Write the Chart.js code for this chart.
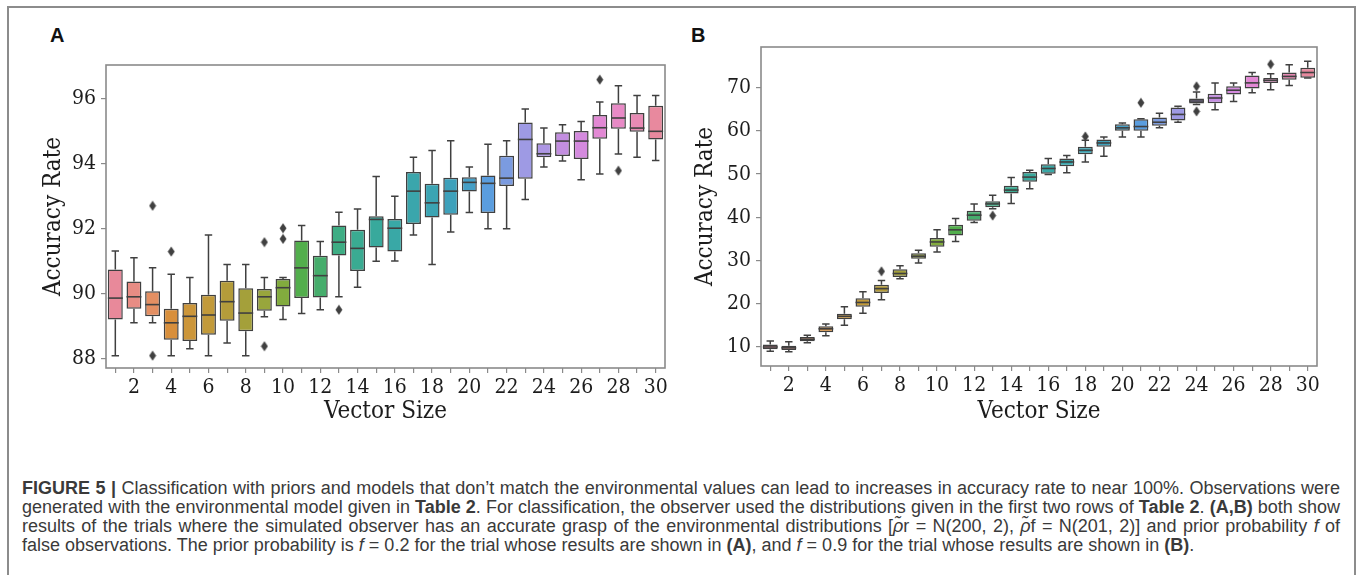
<!DOCTYPE html>
<html>
<head>
<meta charset="utf-8">
<script src="https://cdn.jsdelivr.net/npm/chart.js@4.4.1/dist/chart.umd.min.js"></script>
<style>
  html, body { margin: 0; padding: 0; background: #fff; }
  body { width: 1357px; height: 575px; position: relative; overflow: hidden; }
  #frame { position: absolute; left: 7px; top: 6px; width: 1349px; height: 620px;
           border: 2px solid #8c8c8c; box-sizing: border-box; }
  canvas { position: absolute; top: 0; }
  #chartA { left: 0; }
  #chartB { left: 680px; }
  .tag { position: absolute; top: 25px; font: bold 20px/1 "Liberation Sans", Arial, sans-serif; color: #111; }
  #caption { position: absolute; left: 22px; top: 479px; width: 1318px;
             font-family: "Liberation Sans", Arial, sans-serif; font-size: 18px; line-height: 19px; color: #3a3a3a; }
  #caption div { text-align: justify; text-align-last: justify; }
  #caption div.last { text-align: left; text-align-last: left; }
</style>
</head>
<body>
<div id="frame"></div>
<div class="tag" style="left:50px">A</div>
<div class="tag" style="left:691px">B</div>
<canvas id="chartA" width="680" height="430"></canvas>
<canvas id="chartB" width="677" height="430"></canvas>
<div id="caption">
  <div><b>FIGURE 5 |</b> Classification with priors and models that don’t match the environmental values can lead to increases in accuracy rate to near 100%. Observations were</div>
  <div>generated with the environmental model given in <b>Table 2</b>. For classification, the observer used the distributions given in the first two rows of <b>Table 2</b>. <b>(A,B)</b> both show</div>
  <div>results of the trials where the simulated observer has an accurate grasp of the environmental distributions [<i>ρ̃</i>r = N(200, 2), <i>ρ̃</i>f = N(201, 2)] and prior probability <i>f</i> of</div>
  <div class="last">false observations. The prior probability is <i>f</i> = 0.2 for the trial whose results are shown in <b>(A)</b>, and <i>f</i> = 0.9 for the trial whose results are shown in <b>(B)</b>.</div>
</div>
<script>
const xLabels = ['1','2','3','4','5','6','7','8','9','10','11','12','13','14','15',
                 '16','17','18','19','20','21','22','23','24','25','26','27','28','29','30'];

// panel A: whisker low, Q1, median, Q3, whisker high
const aLow  = [88.08, 89.09, 89.09, 88.08, 88.29, 88.08, 88.47, 88.08, 89.28, 89.19,
               89.38, 89.49, 89.89, 90.18, 90.98, 90.99, 91.79, 90.88, 91.88, 92.48,
               91.98, 91.98, 92.88, 93.88, 94.07, 93.49, 93.67, 94.28, 94.18, 94.08];
const aQ1   = [89.19, 89.52, 89.29, 88.57, 88.53, 88.72, 89.15, 88.83, 89.46, 89.59,
               89.85, 89.87, 91.16, 90.68, 91.41, 91.28, 92.13, 92.33, 92.41, 93.13,
               92.47, 93.30, 93.52, 94.18, 94.22, 94.13, 94.75, 95.06, 94.97, 94.73];
const aMed  = [89.85, 89.89, 89.65, 89.09, 89.29, 89.33, 89.74, 89.39, 89.89, 90.17,
               90.78, 90.54, 91.57, 91.38, 92.27, 92.00, 93.14, 92.78, 93.14, 93.41,
               93.38, 93.54, 94.73, 94.29, 94.68, 94.68, 95.09, 95.39, 95.08, 94.98];
const aQ3   = [90.73, 90.36, 90.06, 89.52, 89.70, 89.95, 90.38, 90.15, 90.13, 90.44,
               91.62, 91.15, 92.08, 91.95, 92.37, 92.28, 93.73, 93.37, 93.55, 93.57,
               93.62, 94.23, 95.25, 94.61, 94.95, 94.99, 95.48, 95.84, 95.54, 95.77];
const aHigh = [91.30, 91.09, 90.78, 90.58, 90.48, 91.79, 90.88, 90.88, 90.48, 90.48,
               92.08, 91.59, 92.49, 92.59, 93.59, 92.98, 94.18, 94.39, 94.69, 93.88,
               94.58, 94.69, 95.67, 95.08, 95.18, 95.28, 95.88, 96.38, 96.08, 96.08];
const aOutliers = [[3, 92.69], [3, 88.08], [4, 91.28], [9, 91.57], [9, 88.37],
                   [10, 92.0], [10, 91.67], [13, 89.49], [27, 96.57], [28, 93.77]];
const aTicks = [88, 90, 92, 94, 96];

// panel B
const bLow  = [9.0, 8.9, 11.0, 12.6, 15.0, 17.8, 20.9, 25.8, 29.4, 32.0,
               34.4, 38.8, 42.0, 43.2, 46.6, 49.9, 50.3, 52.8, 54.1, 58.6,
               58.6, 60.7, 62.0, 66.1, 64.9, 66.8, 68.8, 69.5, 70.5, 72.2];
const bQ1   = [9.5, 9.3, 11.3, 13.4, 16.4, 19.3, 22.5, 26.2, 30.4, 33.2,
               35.8, 39.2, 42.3, 45.5, 48.2, 50.1, 51.8, 54.6, 56.3, 60.0,
               60.0, 61.2, 62.4, 66.3, 66.4, 68.4, 69.8, 71.1, 71.8, 72.3];
const bMed  = [10.0, 9.8, 11.8, 14.2, 17.1, 20.3, 23.5, 27.0, 31.0, 34.3,
               37.1, 40.5, 43.1, 46.3, 49.3, 51.3, 52.8, 55.5, 57.2, 60.7,
               61.0, 62.0, 63.8, 66.9, 67.6, 69.4, 71.1, 71.7, 72.6, 73.5];
const bQ3   = [10.6, 10.3, 12.3, 14.8, 17.7, 21.3, 24.4, 28.0, 31.7, 35.2,
               38.3, 41.5, 43.7, 47.3, 50.5, 52.3, 53.6, 56.3, 58.0, 61.5,
               62.7, 63.1, 65.4, 67.5, 68.6, 70.3, 72.8, 72.2, 73.5, 74.6];
const bHigh = [11.4, 11.2, 12.7, 15.3, 19.3, 22.8, 25.4, 28.8, 32.4, 37.1,
               39.7, 43.1, 45.1, 49.2, 50.9, 53.6, 54.3, 57.8, 58.6, 61.8,
               62.8, 64.1, 65.7, 69.0, 71.1, 71.1, 73.5, 73.2, 75.3, 76.1];
const bOutliers = [[7, 27.5], [13, 40.4], [18, 58.7], [21, 66.5],
                   [24, 70.3], [24, 64.5], [28, 75.4]];
const bTicks = [10, 20, 30, 40, 50, 60, 70];

const boxColors = ['#e8899a', '#e88c84', '#e48f62', '#d88f3c', '#cc963a', '#c29a3a',
                   '#b49c3a', '#a4a03a', '#98a63c', '#82ab3e', '#52ae4c', '#46ad6c',
                   '#3ead84', '#3aab92', '#38a99c', '#39a8a6', '#3aa6ac', '#3ba4b3',
                   '#3ea1bb', '#459fc6', '#5a9dde', '#7b9be0', '#9e9ae4', '#ad96e4',
                   '#c38ee0', '#d48ade', '#e288d4', '#e88ac6', '#e88ab4', '#e8899e'];

const edgeColor = '#404040';
const frameColor = '#8a8a8a';
const textColor = '#1c1c1c';

Chart.defaults.font.family = '"DejaVu Serif Condensed", "DejaVu Serif", serif';
Chart.defaults.color = textColor;

// thin diamond used for the fliers
const flier = document.createElement('canvas');
flier.width = 8; flier.height = 11;
(() => {
  const c = flier.getContext('2d');
  c.fillStyle = edgeColor;
  c.beginPath();
  c.moveTo(4, 0.5); c.lineTo(7.5, 5.5); c.lineTo(4, 10.5); c.lineTo(0.5, 5.5);
  c.closePath(); c.fill();
})();

// whiskers, caps and medians drawn from the chart's own scales
function boxParts(low, med, high) {
  return {
    id: 'boxParts',
    beforeDatasetsDraw(chart) {
      const { ctx } = chart;
      const y = chart.scales.y;
      const bars = chart.getDatasetMeta(0).data;
      ctx.save();
      ctx.strokeStyle = edgeColor;
      ctx.lineWidth = 1.5;
      bars.forEach((bar, i) => {
        const half = bar.width / 4;
        const yl = y.getPixelForValue(low[i]);
        const yh = y.getPixelForValue(high[i]);
        const top = Math.min(bar.y, bar.base), bot = Math.max(bar.y, bar.base);
        ctx.beginPath();
        ctx.moveTo(bar.x, yh); ctx.lineTo(bar.x, top);
        ctx.moveTo(bar.x, yl); ctx.lineTo(bar.x, bot);
        ctx.moveTo(bar.x - half, yh); ctx.lineTo(bar.x + half, yh);
        ctx.moveTo(bar.x - half, yl); ctx.lineTo(bar.x + half, yl);
        ctx.stroke();
      });
      ctx.restore();
    },
    afterDatasetsDraw(chart) {
      const { ctx } = chart;
      const y = chart.scales.y;
      const bars = chart.getDatasetMeta(0).data;
      ctx.save();
      ctx.strokeStyle = edgeColor;
      ctx.lineWidth = 1.6;
      bars.forEach((bar, i) => {
        const ym = y.getPixelForValue(med[i]);
        ctx.beginPath();
        ctx.moveTo(bar.x - bar.width / 2, ym);
        ctx.lineTo(bar.x + bar.width / 2, ym);
        ctx.stroke();
      });
      ctx.restore();
    },
    afterDraw(chart) {
      const { ctx, chartArea: a } = chart;
      ctx.save();
      ctx.strokeStyle = frameColor;
      ctx.lineWidth = 1.6;
      ctx.strokeRect(a.left, a.top, a.right - a.left, a.bottom - a.top);
      ctx.restore();
    }
  };
}

function makeChart(id, s) {
  return new Chart(document.getElementById(id), {
    type: 'bar',
    data: {
      labels: xLabels,
      datasets: [{
        data: s.q1.map((v, i) => [v, s.q3[i]]),
        backgroundColor: boxColors,
        borderColor: edgeColor,
        borderWidth: 1.5,
        borderSkipped: false,
        barPercentage: 0.8,
        categoryPercentage: 1
      }, {
        type: 'line',
        data: s.outliers.map(([c, v]) => ({ x: String(c), y: v })),
        showLine: false,
        pointStyle: flier,
        pointRadius: 4
      }]
    },
    options: {
      responsive: false,
      animation: false,
      layout: { padding: { top: s.padTop, right: s.padRight, left: 0, bottom: 0 } },
      plugins: { legend: { display: false }, tooltip: { enabled: false } },
      scales: {
        x: {
          offset: true,
          grid: { display: true, drawOnChartArea: false, offset: false, tickLength: 5,
                  color: frameColor, lineWidth: 1.2 },
          border: { display: false },
          ticks: { autoSkip: false, maxRotation: 0, padding: 2, font: { size: 21 },
                   callback: (v, i) => (i % 2 === 1 ? xLabels[i] : '') },
          title: { display: true, text: 'Vector Size', font: { size: 24 },
                   padding: { top: 0, bottom: 3.6 } },
          afterFit: sc => { sc.height = s.xAxisH; }
        },
        y: {
          min: s.min,
          max: s.max,
          afterBuildTicks: sc => { sc.ticks = s.ticks.map(v => ({ value: v })); },
          grid: { display: true, drawOnChartArea: false, tickLength: 5,
                  color: frameColor, lineWidth: 1.2 },
          border: { display: false },
          ticks: { padding: 5, font: { size: 21 } },
          title: { display: true, text: 'Accuracy Rate', font: { size: 24 },
                   padding: { top: s.yTitlePad, bottom: 0 } },
          afterFit: sc => { sc.width = s.yAxisW; }
        }
      }
    },
    plugins: [boxParts(s.low, s.med, s.high)]
  });
}

makeChart('chartA', {
  q1: aQ1, q3: aQ3, low: aLow, med: aMed, high: aHigh, outliers: aOutliers, ticks: aTicks,
  min: 87.7, max: 97.02, padTop: 65, padRight: 15, xAxisH: 62, yAxisW: 106, yTitlePad: 39.6
});
makeChart('chartB', {
  q1: bQ1, q3: bQ3, low: bLow, med: bMed, high: bHigh, outliers: bOutliers, ticks: bTicks,
  min: 5.6, max: 79.4, padTop: 47, padRight: 40, xAxisH: 64, yAxisW: 81, yTitlePad: 11.6
});
</script>
</body>
</html>
